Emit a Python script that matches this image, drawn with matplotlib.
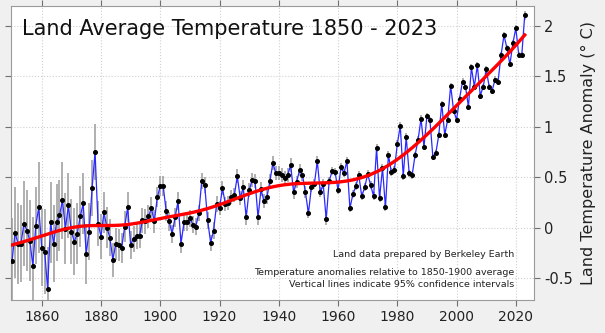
import matplotlib
matplotlib.use('Agg')
import matplotlib.pyplot as plt
import numpy as np

# dados (anomalia anual, terra)
anos = np.arange(1850, 2024)
anomalia = [
    -0.33, -0.05, -0.16, -0.16, 0.04, -0.03, -0.13, -0.38, 0.02, 0.20,
    -0.20, -0.24, -0.61, 0.05, -0.16, 0.05, 0.12, 0.27, -0.01, 0.22,
    -0.04, -0.14, -0.06, 0.11, 0.24, -0.26, -0.04, 0.39, 0.75, 0.04,
    -0.09, 0.15, 0.00, -0.10, -0.32, -0.16, -0.17, -0.20, 0.01, 0.20,
    -0.17, -0.11, -0.08, -0.08, 0.07, 0.06, 0.11, 0.19, 0.06, 0.30,
    0.41, 0.41, 0.16, 0.06, -0.06, 0.10, 0.26, -0.16, 0.05, 0.05,
    0.09, 0.03, 0.01, 0.14, 0.46, 0.42, 0.07, -0.15, -0.03, 0.23,
    0.19, 0.39, 0.23, 0.24, 0.30, 0.32, 0.51, 0.29, 0.40, 0.10,
    0.37, 0.47, 0.46, 0.10, 0.38, 0.26, 0.30, 0.46, 0.64, 0.54,
    0.54, 0.52, 0.49, 0.52, 0.62, 0.35, 0.45, 0.57, 0.52, 0.35,
    0.14, 0.40, 0.43, 0.66, 0.35, 0.43, 0.08, 0.46, 0.56, 0.55,
    0.37, 0.60, 0.54, 0.66, 0.19, 0.33, 0.41, 0.52, 0.31, 0.40,
    0.53, 0.42, 0.31, 0.79, 0.29, 0.59, 0.20, 0.72, 0.55, 0.57,
    0.83, 1.01, 0.51, 0.90, 0.54, 0.52, 0.72, 0.87, 1.08, 0.80,
    1.11, 1.07, 0.70, 0.74, 0.92, 1.23, 0.92, 1.07, 1.41, 1.16,
    1.07, 1.28, 1.45, 1.40, 1.20, 1.59, 1.40, 1.61, 1.31, 1.40,
    1.57, 1.40, 1.36, 1.47, 1.45, 1.71, 1.91, 1.78, 1.62, 1.83,
    1.98, 1.71, 1.71, 2.11]

# meia largura do intervalo de 95%
incerteza = [
    0.42, 0.45, 0.40, 0.38, 0.42, 0.40, 0.40, 0.48, 0.38, 0.45,
    0.38, 0.42, 0.42, 0.40, 0.38, 0.38, 0.35, 0.38, 0.35, 0.32,
    0.32, 0.33, 0.30, 0.30, 0.30, 0.30, 0.28, 0.28, 0.28, 0.22,
    0.22, 0.20, 0.20, 0.18, 0.17, 0.16, 0.16, 0.15, 0.15, 0.15,
    0.14, 0.13, 0.13, 0.12, 0.12, 0.12, 0.11, 0.11, 0.11, 0.10,
    0.10, 0.10, 0.10, 0.09, 0.09, 0.09, 0.09, 0.09, 0.08, 0.08,
    0.08, 0.08, 0.08, 0.08, 0.08, 0.08, 0.08, 0.08, 0.08, 0.08,
    0.07, 0.07, 0.07, 0.07, 0.07, 0.07, 0.07, 0.07, 0.07, 0.07,
    0.07, 0.07, 0.07, 0.07, 0.07, 0.07, 0.07, 0.07, 0.07, 0.07,
    0.07, 0.07, 0.07, 0.07, 0.07, 0.07, 0.06, 0.06, 0.06, 0.06,
    0.05, 0.05, 0.05, 0.05, 0.05, 0.05, 0.05, 0.04, 0.04, 0.04,
    0.04, 0.04, 0.04, 0.04, 0.04, 0.04, 0.04, 0.04, 0.04, 0.04,
    0.04, 0.04, 0.04, 0.04, 0.04, 0.04, 0.04, 0.04, 0.04, 0.04,
    0.035, 0.035, 0.035, 0.035, 0.035, 0.035, 0.035, 0.035, 0.035, 0.035,
    0.03, 0.03, 0.03, 0.03, 0.03, 0.03, 0.03, 0.03, 0.03, 0.03,
    0.03, 0.03, 0.03, 0.03, 0.03, 0.03, 0.03, 0.03, 0.03, 0.03,
    0.03, 0.03, 0.03, 0.03, 0.03, 0.03, 0.03, 0.03, 0.03, 0.03,
    0.03, 0.03, 0.03, 0.045]

x_ticks = [1860, 1880, 1900, 1920, 1940, 1960, 1980, 2000, 2020]
y_ticks = [-0.5, 0, 0.5, 1, 1.5, 2]

t = np.array(anomalia)

# curva suavizada: regressao linear local com peso gaussiano
def suaviza(x, y, sigma=10.0):
    saida = []
    for x0 in x:
        w = np.exp(-0.5 * ((x - x0) / sigma) ** 2)
        A = np.vstack([np.ones_like(x), x - x0]).T
        W = np.diag(w)
        coef = np.linalg.solve(A.T @ W @ A, A.T @ W @ y)
        saida.append(coef[0])
    return np.array(saida)

curva = suaviza(anos.astype(float), t)

fig = plt.figure(figsize=(6.05, 3.33), dpi=100, facecolor='#f0f0f0')
ax = fig.add_axes([0.019, 0.099, 0.864, 0.883])
ax.set_facecolor('white')

ax.vlines(anos, t - np.array(incerteza), t + np.array(incerteza),
          color='#9a9a9a', lw=1.1, zorder=2)
ax.plot(anos, t, color='#2a2aff', lw=0.9, zorder=3)
ax.plot(anos, t, 'o', color='black', ms=2.6, zorder=4)
ax.plot(anos, curva, color='#ff0000', lw=2.4, zorder=5)

ax.set_xlim(1849.8, 2026.2)
ax.set_ylim(-0.72, 2.2)
ax.set_xticks(x_ticks)
ax.set_yticks(y_ticks)
ax.set_yticklabels(['-0.5', '0', '0.5', '1', '1.5', '2'])
ax.grid(True, color='#d0d0d0', ls=':', lw=0.8)
ax.set_axisbelow(True)

ax.tick_params(direction='out', length=4, color='#707070', labelsize=10,
               top=True, right=True, left=True, bottom=True,
               labelleft=False, labelright=True, labelcolor='#222222')
ax.tick_params(axis='y', labelsize=10.5, pad=3)
for s in ax.spines.values():
    s.set_color('#9a9a9a')

ax.yaxis.set_label_position('right')
ax.set_ylabel('Land Temperature Anomaly (° C)', fontsize=11.5, color='#222222', labelpad=6)

ax.text(0.02, 0.955, 'Land Average Temperature 1850 - 2023', transform=ax.transAxes,
        fontsize=15, va='top', ha='left', color='#111111')

ax.text(0.962, 0.155, 'Land data prepared by Berkeley Earth', transform=ax.transAxes,
        fontsize=6.8, ha='right', va='center', color='#222222')
ax.text(0.962, 0.095, 'Temperature anomalies relative to 1850-1900 average',
        transform=ax.transAxes, fontsize=6.8, ha='right', va='center', color='#222222')
ax.text(0.962, 0.052, 'Vertical lines indicate 95% confidence intervals',
        transform=ax.transAxes, fontsize=6.8, ha='right', va='center', color='#222222')

plt.savefig('out.png', dpi=100, facecolor=fig.get_facecolor())
